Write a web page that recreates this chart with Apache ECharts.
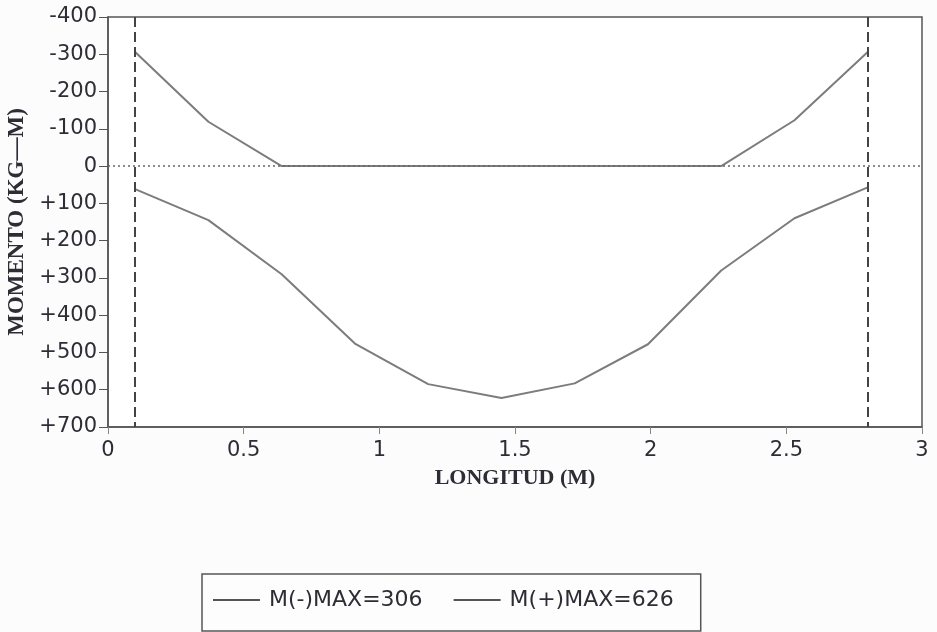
<!DOCTYPE html>
<html>
<head>
<meta charset="utf-8">
<script src="https://cdn.jsdelivr.net/npm/echarts@6/dist/echarts.min.js"></script>
<style>
html,body{margin:0;padding:0;background:#fcfcfc;}
#chart{width:937px;height:632px;}
</style>
</head>
<body>
<div id="chart"></div>
<script>
// Data
var positions = [0.1, 0.37, 0.64, 0.91, 1.18, 1.45, 1.72, 1.99, 2.26, 2.53, 2.80];
var momentNeg = [-306, -119, 0, 0, 0, 0, 0, 0, 0, -123, -306];
var momentPos = [62, 145, 290, 476, 585, 622, 583, 478, 280, 140, 57];
var supports = [0.1, 2.8];
var seriesNames = ['M(-)MAX=306', 'M(+)MAX=626'];
var xTitle = 'LONGITUD (M)';
var yTitle = 'MOMENTO (KG\u2014M)';

function pairs(xs, ys) {
  return xs.map(function (x, i) { return [x, ys[i]]; });
}

var textColor = '#2f2c36';
var lineColor = '#7c7c7c';
var chart = echarts.init(document.getElementById('chart'));
chart.setOption({
  backgroundColor: '#fcfcfc',
  animation: false,
  grid: {
    left: 108, right: 15, top: 17, bottom: 205,
    outerBoundsMode: 'none', containLabel: false,
    show: true, borderColor: '#555', borderWidth: 1.5, backgroundColor: '#ffffff'
  },
  xAxis: {
    type: 'value', min: 0, max: 3, interval: 0.5,
    name: xTitle, nameLocation: 'middle', nameGap: 40,
    nameTextStyle: { fontFamily: "'Liberation Serif', serif", fontWeight: 'bold', fontSize: 22, color: textColor },
    axisLine: { show: true, onZero: false, lineStyle: { color: '#555', width: 1.5 } },
    axisTick: { show: true, length: 7, lineStyle: { color: '#888' } },
    axisLabel: { fontFamily: "'DejaVu Sans', sans-serif", fontSize: 21, color: textColor, margin: 13 },
    splitLine: { show: false }
  },
  yAxis: {
    type: 'value', min: -400, max: 700, interval: 100, inverse: true,
    name: yTitle, nameLocation: 'middle', nameGap: 76, nameRotate: 90,
    nameTextStyle: { fontFamily: "'Liberation Serif', serif", fontWeight: 'bold', fontSize: 23, color: textColor },
    axisLine: { show: true, onZero: false, lineStyle: { color: '#555', width: 1.5 } },
    axisTick: { show: true, length: 9, lineStyle: { color: '#555' } },
    axisLabel: {
      fontFamily: "'DejaVu Sans', sans-serif", fontSize: 21, color: textColor, margin: 11,
      formatter: function (v) { return v > 0 ? '+' + v : String(v); }
    },
    splitLine: { show: false }
  },
  legend: {
    left: 202, top: 574,
    padding: [15, 27, 20, 11],
    itemGap: 31, itemWidth: 47, itemHeight: 2, icon: 'rect',
    borderColor: '#555', borderWidth: 1.5, backgroundColor: '#fdfdfd',
    textStyle: { fontFamily: "'DejaVu Sans', sans-serif", fontSize: 22, color: textColor, padding: [0, 0, 0, 4] },
    data: seriesNames
  },
  series: [
    {
      name: seriesNames[0], type: 'line', data: pairs(positions, momentNeg),
      symbol: 'none', color: '#555', z: 3,
      lineStyle: { color: lineColor, width: 2 },
      markLine: {
        silent: true, symbol: 'none', label: { show: false },
        lineStyle: { color: '#666', width: 1.5, type: [2, 3] },
        data: [{ yAxis: 0 }]
      }
    },
    {
      name: seriesNames[1], type: 'line', data: pairs(positions, momentPos),
      symbol: 'none', color: '#555', z: 3,
      lineStyle: { color: lineColor, width: 2 },
      markLine: {
        silent: true, symbol: 'none', label: { show: false },
        lineStyle: { color: '#444', width: 2, type: [10, 5] },
        data: supports.map(function (s) { return { xAxis: s }; })
      }
    }
  ]
});
</script>
</body>
</html>
